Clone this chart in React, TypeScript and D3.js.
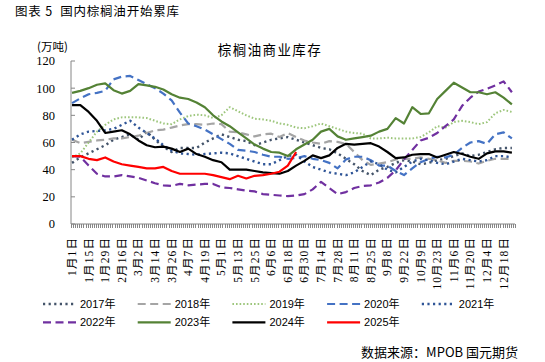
import * as d3 from "d3";

const W = 545;
const H = 362;

// x labels (every other weekly point)
const dateLabels = [
  "1月1日", "1月15日", "1月29日", "2月16日", "3月2日", "3月14日", "3月26日",
  "4月7日", "4月19日", "5月1日", "5月13日", "5月25日", "6月6日", "6月18日",
  "6月30日", "7月14日", "7月28日", "8月11日", "8月25日", "9月8日", "9月22日",
  "10月9日", "10月23日", "11月6日", "11月20日", "12月4日", "12月18日",
];
const yTicks = [0, 20, 40, 60, 80, 100, 120];

const years = ["2017年", "2018年", "2019年", "2020年", "2021年", "2022年", "2023年", "2024年", "2025年"];

// weekly stock, 万吨
const s2017 = [45, 49, 52, 55, 58, 62, 64, 66, 62, 68, 62, 57, 53, 56, 56, 56, 60, 63, 66, 64, 62, 61, 58, 60, 62, 63, 64, 62, 60, 58, 56, 55, 52, 48, 44, 39, 36, 40, 42, 45, 47, 46, 44, 45, 47, 48, 50, 52, 50, 51, 53, 55, 56, 56];
const s2018 = [62, 59.5, 60.5, 61.5, 62, 63, 63, 64, 65, 67, 69, 69.5, 71, 72.5, 73.5, 73.5, 73, 74, 73.5, 68, 67.5, 66, 64.5, 66, 66.5, 64, 67, 64, 61.5, 60, 59, 61, 60.5, 59, 53, 47, 43.5, 44.5, 45.5, 47.5, 48, 48, 49, 48, 47, 45, 46.5, 46.5, 46, 44.5, 46.5, 48, 48, 48];
const s2019 = [49, 52, 60, 68, 73, 77, 78.5, 78.5, 78.5, 78, 76, 74, 73.5, 77, 79.5, 80.5, 80, 78, 80, 86, 83, 80, 77.5, 77, 76, 74, 73, 71, 70.5, 72, 74, 72, 70, 68, 67, 66.5, 63, 63, 63.5, 63, 63, 63, 64, 67.5, 72, 71, 75, 76, 75, 73.5, 75, 81.5, 84, 82.5];
const s2020 = [89, 92.5, 95.5, 96.5, 98, 106.5, 108.5, 109, 106, 103, 100, 96, 91, 82, 74, 72, 69.5, 66, 62.5, 59, 54.5, 54, 53, 51, 49.5, 49.5, 48, 48.5, 50, 48, 47, 45, 41, 47.5, 49.5, 49.5, 47, 43, 43, 39, 36, 41, 45.5, 48, 49.5, 49, 51, 56, 60, 61, 59, 66, 67.5, 63];
const s2021 = [62, 66, 68, 68.5, 69, 70, 73, 76, 71, 67, 63, 58, 54, 52, 51.5, 51, 51.5, 52, 52.5, 52, 50, 48, 46, 44, 44, 47, 50, 51, 46, 42, 40, 38, 37, 36, 38, 42, 46, 44, 40, 38, 42, 46, 48, 47, 45, 44, 46, 48, 47, 46, 47, 50, 50, 49];
const s2022 = [50, 49.5, 43, 37, 35, 35, 36, 35, 34, 32, 30, 28.5, 28, 29.5, 28.5, 29, 29.5, 29.5, 27, 26.5, 25.5, 24.5, 24, 22, 21.5, 21, 20.5, 21, 22, 25.5, 31, 26.5, 22, 23.5, 26.5, 28, 28.5, 30.5, 34, 39.5, 47.5, 54.5, 61.5, 63.5, 67, 72, 77, 87, 93, 97.5, 99.5, 102, 105, 97];
const s2023 = [96.5, 98, 100, 102.5, 103.5, 98.5, 96, 98, 103, 102, 101, 99, 95.5, 93, 92, 89.5, 86, 80, 75.5, 72, 67.5, 63, 58.5, 55.5, 53, 52.5, 50, 55, 58.5, 62, 68, 70, 64.5, 62, 63, 64, 65, 68, 70, 78, 74, 86, 81, 81.5, 92, 98, 104, 100.5, 97, 97, 95.5, 97, 93, 88];
const s2024 = [87.5, 87.5, 82.5, 76, 67, 68, 69, 66, 61.5, 58, 56.5, 57, 55.5, 53, 55.5, 51.5, 49.5, 47, 45.5, 40, 40, 40, 39, 38, 37.5, 37, 39, 43, 46.5, 50.5, 48.5, 50.5, 56, 59, 58.5, 59, 59.5, 57, 53, 48.5, 49, 51, 51.5, 51.5, 49, 51, 53, 51.5, 49.5, 48, 52, 53.5, 53.5, 52.5];
const s2025 = [50, 50, 48, 47, 49, 46, 44, 43, 42, 41, 41, 42, 39, 37, 37, 37, 37, 36, 34.5, 33, 35.5, 33.5, 35.5, 36, 37, 38.5, 43, 53];

const seriesValues = [s2017, s2018, s2019, s2020, s2021, s2022, s2023, s2024, s2025];

const lineStyles = [
  { color: "#44546A", dash: "2.2 3.4", width: 2.4 },
  { color: "#A5A5A5", dash: "8 4.5", width: 2.2 },
  { color: "#9DC67C", dash: "1.6 2", width: 2 },
  { color: "#4472C4", dash: "8 4.5", width: 2.2 },
  { color: "#2F5597", dash: "2.2 3.4", width: 2.4 },
  { color: "#7030A0", dash: "8 4.5", width: 2.2 },
  { color: "#548235", dash: "", width: 2.2 },
  { color: "#000000", dash: "", width: 2.2 },
  { color: "#FF0000", dash: "", width: 2.2 },
];

const slotCount = 214; // category slots on the x axis
const slotsPerWeek = 4;
const slotsPerLabel = 8;

const cjkSerif = "'Liberation Serif', 'Noto Sans CJK SC', serif";
const cjkSans = "'Liberation Sans', 'Noto Sans CJK SC', sans-serif";

export default function App() {
  const plot = { left: 71, right: 515, top: 61, bottom: 224 };

  const xSlot = d3.scaleBand<number>().domain(d3.range(slotCount)).range([plot.left, plot.right]);
  const bw = xSlot.bandwidth();
  const cx = (s: number) => (xSlot(s) ?? 0) + bw / 2;
  const y = d3.scaleLinear().domain([0, 120]).range([plot.bottom, plot.top]);

  const line = d3
    .line<number>()
    .x((_, i) => cx(i * slotsPerWeek))
    .y((d) => y(d))
    .curve(d3.curveLinear);

  const legendRows = [years.slice(0, 5), years.slice(5)];

  return (
    <svg
      width={W}
      height={H}
      style={{ position: "absolute", left: 0, top: 0, background: "#fff" }}
    >
      <text x={15} y={16} fontSize={12.5} letterSpacing={0.8} fontFamily="'Noto Sans CJK SC', sans-serif" fill="#000" style={{ whiteSpace: "pre" }}>
        {"图表 5  国内棕榈油开始累库"}
      </text>
      <text x={270} y={55} textAnchor="middle" fontSize={13.5} letterSpacing={1.4} fontFamily="'Noto Sans CJK SC', serif" fill="#000">
        棕榈油商业库存
      </text>
      <text x={37} y={51} fontSize={11.5} fontFamily="'Noto Sans CJK SC', serif" fill="#000">
        (万吨)
      </text>

      {/* y axis */}
      <line x1={plot.left} x2={plot.left} y1={plot.top} y2={plot.bottom} stroke="#868686" strokeWidth={1} />
      {yTicks.map((t) => (
        <g key={t}>
          <line x1={plot.left} x2={plot.left + 4} y1={y(t)} y2={y(t)} stroke="#868686" />
          <text x={55} y={y(t)} dy="0.35em" textAnchor="end" fontSize={12.5} fontFamily={cjkSerif} fill="#000">
            {t}
          </text>
        </g>
      ))}

      {/* x axis */}
      <line x1={plot.left} x2={plot.right} y1={plot.bottom} y2={plot.bottom} stroke="#868686" strokeWidth={1} />
      {d3.range(slotCount + 1).map((s) => {
        const xx = Math.round(plot.left + s * bw) + 0.5;
        return <line key={s} x1={xx} x2={xx} y1={plot.bottom} y2={plot.bottom + 4} stroke="#868686" strokeWidth={1} />;
      })}
      {dateLabels.map((lab, k) => (
        <text
          key={lab}
          transform={`translate(${cx(k * slotsPerLabel)},237) rotate(-90)`}
          textAnchor="end"
          dy="0.35em"
          fontSize={11.5}
          letterSpacing={1.1}
          fontFamily={cjkSerif}
          fill="#000"
        >
          {lab}
        </text>
      ))}

      {/* series */}
      {seriesValues.map((vals, si) => {
        const st = lineStyles[si];
        return (
          <path
            key={years[si]}
            d={line(vals) ?? ""}
            fill="none"
            stroke={st.color}
            strokeWidth={st.width}
            strokeDasharray={st.dash || undefined}
            strokeLinejoin="round"
          />
        );
      })}

      {/* legend */}
      {legendRows.map((row, r) =>
        row.map((name, c) => {
          const si = r * 5 + c;
          const st = lineStyles[si];
          const lx = 43 + c * 94.7;
          const ly = 304 + r * 18.3;
          return (
            <g key={name}>
              <line x1={lx} x2={lx + 33} y1={ly} y2={ly} stroke={st.color} strokeWidth={st.width} strokeDasharray={st.dash || undefined} />
              <text x={lx + 37} y={ly} dy="0.36em" fontSize={11} fontFamily={cjkSans} fill="#000">
                {name}
              </text>
            </g>
          );
        })
      )}

      <text x={518} y={357} textAnchor="end" fontSize={13} fontFamily="'Noto Sans CJK SC', sans-serif" fill="#000">
        数据来源：MPOB 国元期货
      </text>
    </svg>
  );
}
